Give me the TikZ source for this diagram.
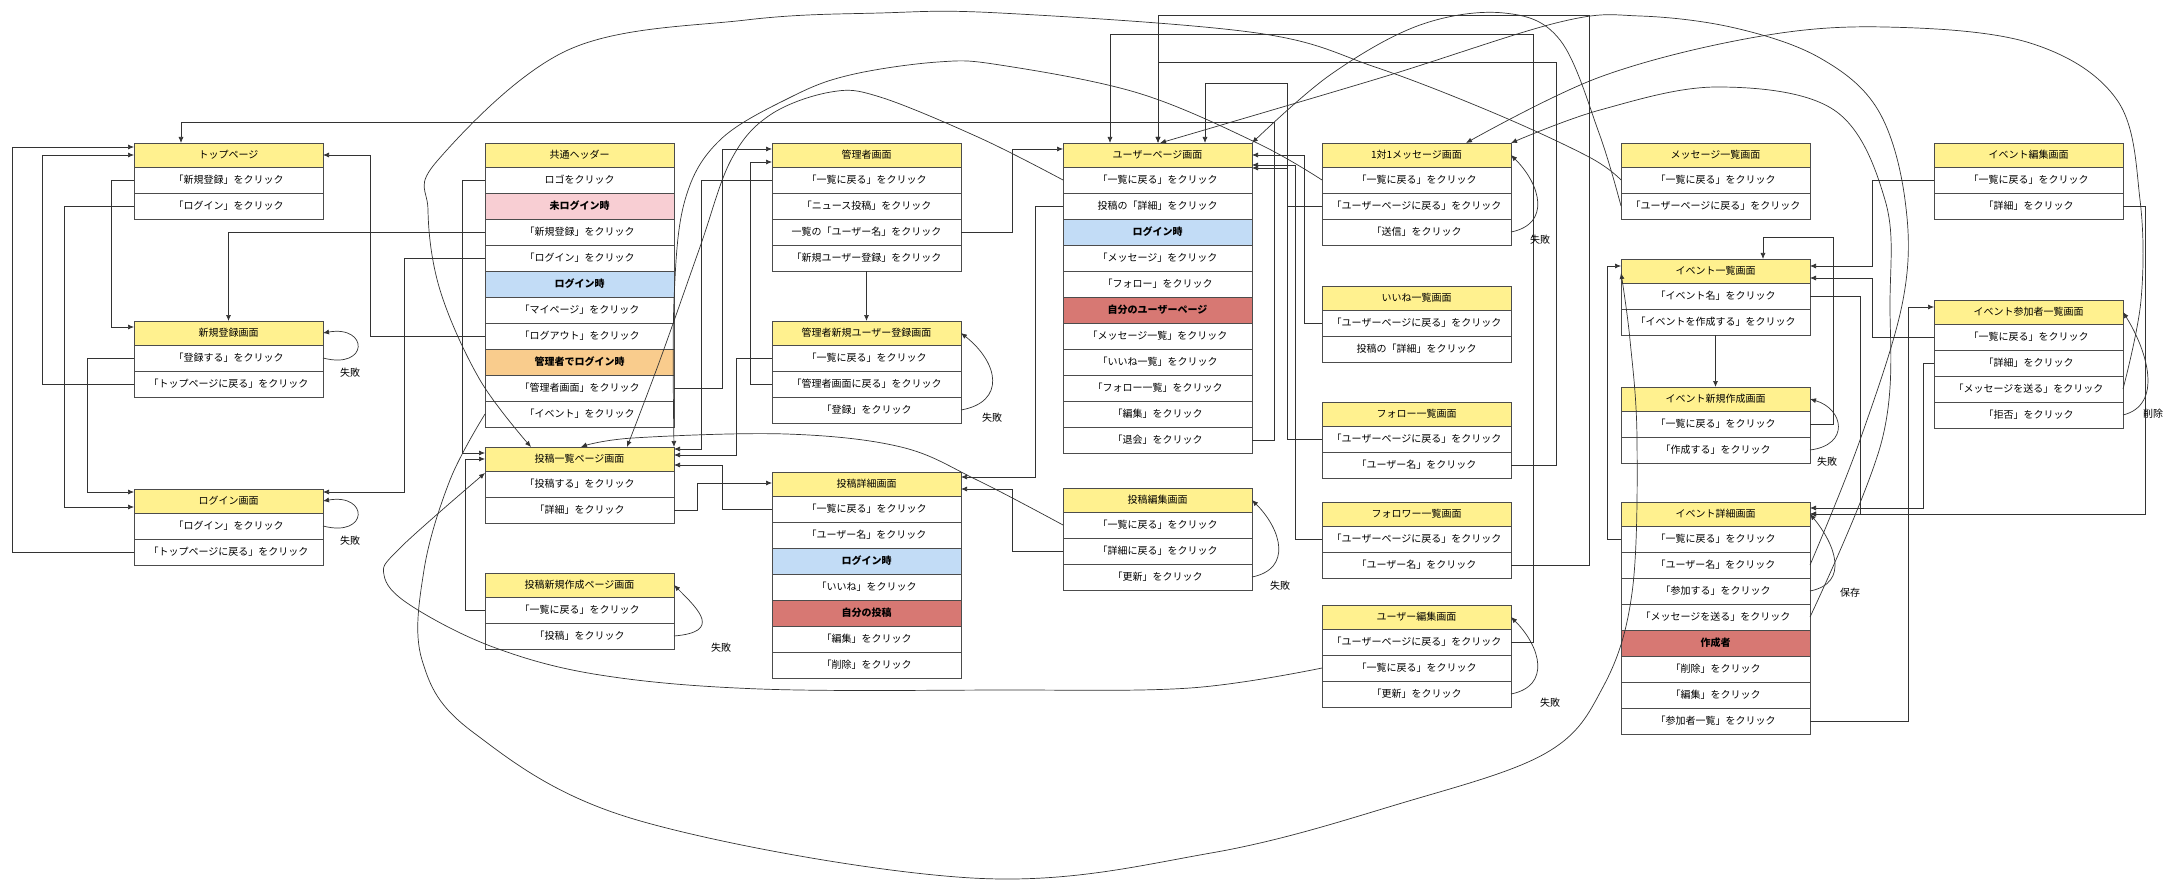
\documentclass[tikz,border=0pt]{standalone}
\usepackage{fontspec}
\newfontfamily\jpfont{Noto Sans CJK JP}
\usetikzlibrary{positioning,arrows.meta}

\definecolor{hdryellow}{HTML}{FFF18F}
\definecolor{condpink}{HTML}{F8CED3}
\definecolor{condblue}{HTML}{C2DCF6}
\definecolor{condorange}{HTML}{F9CC8D}
\definecolor{condred}{HTML}{D77873}

\tikzset{
  screen/.style={draw=black!70, line width=0.8pt, minimum width=189pt, inner sep=0pt, outer sep=0pt,
    font=\jpfont\fontsize{10}{12}\selectfont},
  title/.style={screen, fill=hdryellow, minimum height=24pt},
  click/.style={screen, fill=white, minimum height=26pt},
  cond/.style={click, fill=#1, font=\jpfont\bfseries\fontsize{10}{12}\selectfont},
  link/.style={draw=black!80, line width=0.7pt, -{Latex[length=6pt,width=5pt]}},
  tag/.style={font=\jpfont\fontsize{10}{12}\selectfont, inner sep=0pt},
}

\begin{document}
\begin{tikzpicture}[x=1pt, y=-1pt]
  \useasboundingbox (0,0) rectangle (2175,885);

  % ログイン前の画面
  \node[title, anchor=north west] (top) at (134,143) {トップページ};
  \node[click, below=0pt of top] (top1) {「新規登録」をクリック};
  \node[click, below=0pt of top1] (top2) {「ログイン」をクリック};

  \node[title, anchor=north west] (reg) at (134,321) {新規登録画面};
  \node[click, below=0pt of reg] (reg1) {「登録する」をクリック};
  \node[click, below=0pt of reg1] (reg2) {「トップページに戻る」をクリック};

  \node[title, anchor=north west] (login) at (134,489) {ログイン画面};
  \node[click, below=0pt of login] (login1) {「ログイン」をクリック};
  \node[click, below=0pt of login1] (login2) {「トップページに戻る」をクリック};

  % 共通ヘッダー
  \node[title, anchor=north west] (hd) at (485,143) {共通ヘッダー};
  \node[click, below=0pt of hd] (hd1) {ロゴをクリック};
  \node[cond=condpink, below=0pt of hd1] (hd2) {未ログイン時};
  \node[click, below=0pt of hd2] (hd3) {「新規登録」をクリック};
  \node[click, below=0pt of hd3] (hd4) {「ログイン」をクリック};
  \node[cond=condblue, below=0pt of hd4] (hd5) {ログイン時};
  \node[click, below=0pt of hd5] (hd6) {「マイページ」をクリック};
  \node[click, below=0pt of hd6] (hd7) {「ログアウト」をクリック};
  \node[cond=condorange, below=0pt of hd7] (hd8) {管理者でログイン時};
  \node[click, below=0pt of hd8] (hd9) {「管理者画面」をクリック};
  \node[click, below=0pt of hd9] (hd10) {「イベント」をクリック};

  % 投稿
  \node[title, anchor=north west] (plist) at (485,447) {投稿一覧ページ画面};
  \node[click, below=0pt of plist] (plist1) {「投稿する」をクリック};
  \node[click, below=0pt of plist1] (plist2) {「詳細」をクリック};

  \node[title, anchor=north west] (pnew) at (485,573) {投稿新規作成ページ画面};
  \node[click, below=0pt of pnew] (pnew1) {「一覧に戻る」をクリック};
  \node[click, below=0pt of pnew1] (pnew2) {「投稿」をクリック};

  % 管理者
  \node[title, anchor=north west] (adm) at (772,143) {管理者画面};
  \node[click, below=0pt of adm] (adm1) {「一覧に戻る」をクリック};
  \node[click, below=0pt of adm1] (adm2) {「ニュース投稿」をクリック};
  \node[click, below=0pt of adm2] (adm3) {一覧の「ユーザー名」をクリック};
  \node[click, below=0pt of adm3] (adm4) {「新規ユーザー登録」をクリック};

  \node[title, anchor=north west] (anew) at (772,321) {管理者新規ユーザー登録画面};
  \node[click, below=0pt of anew] (anew1) {「一覧に戻る」をクリック};
  \node[click, below=0pt of anew1] (anew2) {「管理者画面に戻る」をクリック};
  \node[click, below=0pt of anew2] (anew3) {「登録」をクリック};

  \node[title, anchor=north west] (pdet) at (772,472) {投稿詳細画面};
  \node[click, below=0pt of pdet] (pdet1) {「一覧に戻る」をクリック};
  \node[click, below=0pt of pdet1] (pdet2) {「ユーザー名」をクリック};
  \node[cond=condblue, below=0pt of pdet2] (pdet3) {ログイン時};
  \node[click, below=0pt of pdet3] (pdet4) {「いいね」をクリック};
  \node[cond=condred, below=0pt of pdet4] (pdet5) {自分の投稿};
  \node[click, below=0pt of pdet5] (pdet6) {「編集」をクリック};
  \node[click, below=0pt of pdet6] (pdet7) {「削除」をクリック};

  % ユーザー
  \node[title, anchor=north west] (user) at (1063,143) {ユーザーページ画面};
  \node[click, below=0pt of user] (user1) {「一覧に戻る」をクリック};
  \node[click, below=0pt of user1] (user2) {投稿の「詳細」をクリック};
  \node[cond=condblue, below=0pt of user2] (user3) {ログイン時};
  \node[click, below=0pt of user3] (user4) {「メッセージ」をクリック};
  \node[click, below=0pt of user4] (user5) {「フォロー」をクリック};
  \node[cond=condred, below=0pt of user5] (user6) {自分のユーザーページ};
  \node[click, below=0pt of user6] (user7) {「メッセージ一覧」をクリック};
  \node[click, below=0pt of user7] (user8) {「いいね一覧」をクリック};
  \node[click, below=0pt of user8] (user9) {「フォロー一覧」をクリック};
  \node[click, below=0pt of user9] (user10) {「編集」をクリック};
  \node[click, below=0pt of user10] (user11) {「退会」をクリック};

  \node[title, anchor=north west] (pedit) at (1063,488) {投稿編集画面};
  \node[click, below=0pt of pedit] (pedit1) {「一覧に戻る」をクリック};
  \node[click, below=0pt of pedit1] (pedit2) {「詳細に戻る」をクリック};
  \node[click, below=0pt of pedit2] (pedit3) {「更新」をクリック};

  \node[title, anchor=north west] (dm) at (1322,143) {1対1メッセージ画面};
  \node[click, below=0pt of dm] (dm1) {「一覧に戻る」をクリック};
  \node[click, below=0pt of dm1] (dm2) {「ユーザーページに戻る」をクリック};
  \node[click, below=0pt of dm2] (dm3) {「送信」をクリック};

  \node[title, anchor=north west] (like) at (1322,286) {いいね一覧画面};
  \node[click, below=0pt of like] (like1) {「ユーザーページに戻る」をクリック};
  \node[click, below=0pt of like1] (like2) {投稿の「詳細」をクリック};

  \node[title, anchor=north west] (follow) at (1322,402) {フォロー一覧画面};
  \node[click, below=0pt of follow] (follow1) {「ユーザーページに戻る」をクリック};
  \node[click, below=0pt of follow1] (follow2) {「ユーザー名」をクリック};

  \node[title, anchor=north west] (fwer) at (1322,502) {フォロワー一覧画面};
  \node[click, below=0pt of fwer] (fwer1) {「ユーザーページに戻る」をクリック};
  \node[click, below=0pt of fwer1] (fwer2) {「ユーザー名」をクリック};

  \node[title, anchor=north west] (uedit) at (1322,605) {ユーザー編集画面};
  \node[click, below=0pt of uedit] (uedit1) {「ユーザーページに戻る」をクリック};
  \node[click, below=0pt of uedit1] (uedit2) {「一覧に戻る」をクリック};
  \node[click, below=0pt of uedit2] (uedit3) {「更新」をクリック};

  % メッセージ・イベント
  \node[title, anchor=north west] (msgs) at (1621,143) {メッセージ一覧画面};
  \node[click, below=0pt of msgs] (msgs1) {「一覧に戻る」をクリック};
  \node[click, below=0pt of msgs1] (msgs2) {「ユーザーページに戻る」をクリック};

  \node[title, anchor=north west] (ev) at (1621,259) {イベント一覧画面};
  \node[click, below=0pt of ev] (ev1) {「イベント名」をクリック};
  \node[click, below=0pt of ev1] (ev2) {「イベントを作成する」をクリック};

  \node[title, anchor=north west] (evnew) at (1621,387) {イベント新規作成画面};
  \node[click, below=0pt of evnew] (evnew1) {「一覧に戻る」をクリック};
  \node[click, below=0pt of evnew1] (evnew2) {「作成する」をクリック};

  \node[title, anchor=north west] (evdet) at (1621,502) {イベント詳細画面};
  \node[click, below=0pt of evdet] (evdet1) {「一覧に戻る」をクリック};
  \node[click, below=0pt of evdet1] (evdet2) {「ユーザー名」をクリック};
  \node[click, below=0pt of evdet2] (evdet3) {「参加する」をクリック};
  \node[click, below=0pt of evdet3] (evdet4) {「メッセージを送る」をクリック};
  \node[cond=condred, below=0pt of evdet4] (evdet5) {作成者};
  \node[click, below=0pt of evdet5] (evdet6) {「削除」をクリック};
  \node[click, below=0pt of evdet6] (evdet7) {「編集」をクリック};
  \node[click, below=0pt of evdet7] (evdet8) {「参加者一覧」をクリック};

  \node[title, anchor=north west] (evedit) at (1934,143) {イベント編集画面};
  \node[click, below=0pt of evedit] (evedit1) {「一覧に戻る」をクリック};
  \node[click, below=0pt of evedit1] (evedit2) {「詳細」をクリック};

  \node[title, anchor=north west] (evmem) at (1934,300) {イベント参加者一覧画面};
  \node[click, below=0pt of evmem] (evmem1) {「一覧に戻る」をクリック};
  \node[click, below=0pt of evmem1] (evmem2) {「詳細」をクリック};
  \node[click, below=0pt of evmem2] (evmem3) {「メッセージを送る」をクリック};
  \node[click, below=0pt of evmem3] (evmem4) {「拒否」をクリック};

  % 左列
  \draw[link] (top1.west) -| (111,327) -- ([yshift=-6pt]reg.north west);
  \draw[link] (top2.west) -| (64,507) -- ([yshift=-18pt]login.north west);
  \draw[link] (reg1.west) -| (87,492) -- ([yshift=-3pt]login.north west);
  \draw[link] (reg2.west) -| (42,155) -- (top.west);
  \draw[link] (login2.west) -| (12,147) -- ([yshift=-4pt]top.north west);

  % ヘッダーから
  \draw[link] (hd1.west) -| (462,453) -- ([yshift=-6pt]plist.north west);
  \draw[link] (hd3.west) -| (reg.north);
  \draw[link] (hd4.west) -| (404,492) -- ([yshift=-3pt]login.north east);
  \draw[link] (hd7.west) -| (370,155) -- (top.east);
  \draw[link] (hd9.east) -| (722,149) -- ([yshift=-6pt]adm.north west);
  \draw[link] (pnew1.west) -| (465,459) -- ([yshift=-12pt]plist.north west);

  % 管理者・投稿
  \draw[link] (adm1.west) -| (701,449) -- ([yshift=-2pt]plist.north east);
  \draw[link] (anew1.west) -| (736,455) -- ([yshift=-8pt]plist.north east);
  \draw[link] (anew2.west) -| (750,162) -- ([yshift=-19pt]adm.north west);
  \draw[link] (adm4.south) -- (anew.north);
  \draw[link] (adm3.east) -| (1012,149) -- ([yshift=-6pt]user.north west);
  \draw[link] (plist2.east) -| (697,483) -- ([yshift=-11pt]pdet.north west);
  \draw[link] (pdet1.west) -| (722,465) -- ([yshift=-18pt]plist.north east);

  % ユーザーページへ
  \draw[link] (user2.west) -| (1035,477) -- ([yshift=-5pt]pdet.north east);
  \draw[link] (pedit2.west) -| (1012,489) -- ([yshift=-17pt]pdet.north east);
  \draw[link] (user11.east) -| (1274,122) -| ([xshift=47pt]top.north west);
  \draw[link] (dm2.west) -| (1287,168) -- ([yshift=-25pt]user.north east);
  \draw[link] (fwer1.west) -| (1295,165) -- ([yshift=-22pt]user.north east);
  \draw[link] (like1.west) -| (1304,155) -- (user.east);
  \draw[link] (follow1.west) -| (1287,83) -| ([xshift=142pt]user.north west);
  \draw[link] (follow2.east) -| (1556,62) -| ([xshift=95pt]user.north west);
  \draw[link] (fwer2.east) -| (1589,15) -| ([xshift=95pt]user.north west);
  \draw[link] (uedit1.east) -| (1533,34) -| ([xshift=47pt]user.north west);

  % イベント
  \draw[link] (evedit1.west) -| (1872,266) -- ([yshift=-7pt]ev.north east);
  \draw[link] (evmem1.west) -| (1872,278) -- ([yshift=-19pt]ev.north east);
  \draw[link] (ev1.east) -| (1860,514) -- ([yshift=-12pt]evdet.north east);
  \draw[link] (ev2.south) -- (evnew.north);
  \draw[link] (evnew1.east) -| (1833,237) -| ([xshift=142pt]ev.north west);
  \draw[link] (evmem2.west) -| (1923,508) -- ([yshift=-6pt]evdet.north east);
  \draw[link] (evedit2.east) -| (2145,514) -- ([yshift=-12pt]evdet.north east);
  \draw[link] (evdet8.east) -| (1908,307) -- ([yshift=-7pt]evmem.north west);
  \draw[link] (evdet1.west) -| (1607,266) -- ([yshift=-7pt]ev.north west);

  % 曲線
  \draw[link] plot[smooth, tension=0.6] coordinates {(msgs1.west) (1589,157) (1494,113) (1375,67) (1257,33)
    (1000,13) (880,13) (746,20) (568,50) (438,160) (428,210) (440,290) (480,380) ([xshift=46pt]plist.north west)};
  \draw[link] plot[smooth, tension=0.6] coordinates {(dm1.west) (1257,143) (1138,93) (1000,65) (938,62)
    (850,75) (791,97) (720,140) (685,200) (674,300) (plist.north east)};
  \draw[link] plot[smooth, tension=0.6] coordinates {(user1.west) (980,138) (880,97) (831,92) (770,115)
    (731,160) (700,247) (660,360) ([xshift=142pt]plist.north west)};
  \draw[link] plot[smooth, tension=0.6] coordinates {(pedit1.west) (977,480) (901,447) (786,434) (633,438)
    ([xshift=96pt]plist.north west)};
  \draw[link] plot[smooth, tension=0.6] coordinates {(uedit2.west) (1190,688) (1000,690) (760,689) (600,675)
    (493,647) (410,605) (384,575) (400,548) ([yshift=-26pt]plist.north west)};
  \draw[link] plot[smooth, tension=0.6] coordinates {(hd10.west) (450,480) (424,570) (422,660) (474,733)
    (637,820) (972,878) (1211,853) (1402,803) (1546,753) (1603,687) (1632,593) (1637,440) (1630,340)
    ([yshift=-14pt]ev.north west)};
  \draw[link] plot[smooth, tension=0.6] coordinates {(evdet2.east) (1860,440) (1903,300) (1905,200) (1878,110)
    (1820,58) (1735,28) (1640,16) (1560,22) (1380,78) ([xshift=97pt]user.north west)};
  \draw[link] plot[smooth, tension=0.6] coordinates {(evdet4.east) (1882,440) (1890,300) (1885,200) (1834,110)
    (1717,87) (1600,110) (dm.north east)};
  \draw[link] plot[smooth, tension=0.6] coordinates {(evmem3.east) (2141,300) (2140,200) (2117,100) (2030,43)
    (1885,27) (1756,37) (1600,77) ([xshift=144pt]dm.north west)};
  \draw[link] plot[smooth, tension=0.6] coordinates {(msgs2.west) (1599,133) (1560,40) (1504,13) (1420,25)
    (1330,75) (user.north east)};

  % 失敗時のループ
  \draw[link] (reg1.east) .. controls +(46,12) and +(46,-8) .. (reg.east);
  \node[tag] (regfail) at (350,373) {失敗};
  \draw[link] (login1.east) .. controls +(46,12) and +(46,-8) .. (login.east);
  \node[tag] (loginfail) at (350,541) {失敗};
  \draw[link] (anew3.east) .. controls +(45,-8) and +(38,30) .. (anew.east);
  \node[tag] (anewfail) at (992,418) {失敗};
  \draw[link] (pnew2.east) .. controls +(48,-4) and +(25,25) .. (pnew.east);
  \node[tag] (pnewfail) at (721,648) {失敗};
  \draw[link] (pedit3.east) .. controls +(40,-8) and +(30,30) .. (pedit.east);
  \node[tag] (peditfail) at (1280,586) {失敗};
  \draw[link] (uedit3.east) .. controls +(40,-8) and +(30,30) .. (uedit.east);
  \node[tag] (ueditfail) at (1550,703) {失敗};
  \draw[link] (dm3.east) .. controls +(40,-8) and +(30,30) .. (dm.east);
  \node[tag] (dmfail) at (1540,240) {失敗};
  \draw[link] (evnew2.east) .. controls +(40,-5) and +(34,10) .. (evnew.east);
  \node[tag] (evnewfail) at (1827,462) {失敗};
  \draw[link] (evmem4.east) .. controls +(40,-10) and +(25,40) .. (evmem.east);
  \node[tag] (evmemdel) at (2153,414) {削除};
  \draw[link] (evdet3.east) .. controls +(40,-8) and +(25,30) .. (evdet.east);
  \node[tag] (evdetsave) at (1850,593) {保存};
\end{tikzpicture}
\end{document}
